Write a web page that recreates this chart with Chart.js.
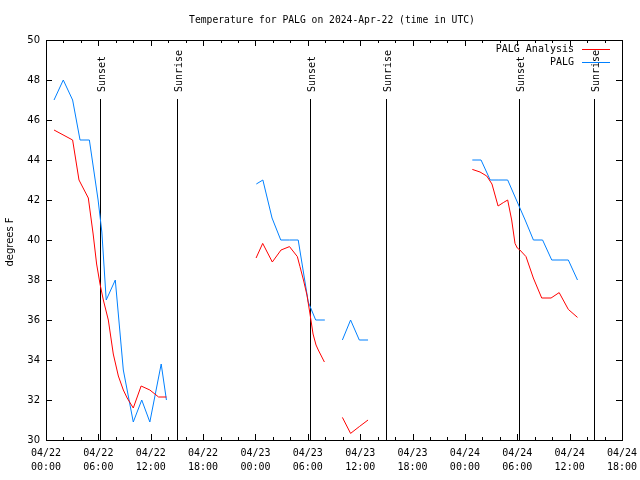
<!DOCTYPE html>
<html>
<head>
<meta charset="utf-8">
<title>PALG temperature</title>
<script src="https://cdn.jsdelivr.net/npm/chart.js@4.4.1/dist/chart.umd.min.js"></script>
<style>
  html, body { margin: 0; padding: 0; background: #fff; }
</style>
</head>
<body>
<canvas id="tempChart" width="640" height="480"></canvas>
<script>
// x values are hours since 04/22 00:00 UTC, null temp = gap in the record
const obsHours = [0.92, 1.98, 3.05, 3.9, 4.97, 5.97, 6.4, 6.9, 7.94, 8.86, 10.0, 10.97, 11.9, 13.2, 13.8,
  20,
  24.1, 24.85, 25.9, 26.9, 27.9, 28.9, 30.05, 30.9, 31.95,
  33,
  33.96, 34.9, 35.9, 36.9,
  45,
  48.85, 49.85, 50.9, 51.9, 52.9, 53.9, 54.9, 55.85, 56.9, 57.95, 58.9, 59.85, 60.9];
const obsTemps = [47, 48, 47, 45, 45, 42, 40.4, 37, 38, 33.5, 30.9, 32, 30.9, 33.8, 32,
  null,
  42.8, 43, 41.1, 40, 40, 40, 36.9, 36, 36,
  null,
  35, 36, 35, 35,
  null,
  44, 44, 43, 43, 43, 42, 41, 40, 40, 39, 39, 39, 38];

const anaHours = [0.92, 3.05, 3.78, 4.85, 5.4, 5.8, 6.19, 6.57, 7.14, 7.71, 8.29, 8.86, 9.3, 10.0, 10.9, 11.9, 12.9, 13.8,
  20,
  24.07, 24.83, 25.93, 26.93, 27.9, 28.8, 29.1, 29.5, 29.9, 30.25, 30.6, 30.94, 31.2, 31.9,
  33,
  33.96, 34.9, 35.9, 36.9,
  45,
  48.85, 49.73, 50.5, 51.1, 51.8, 52.4, 52.9, 53.36, 53.74, 54.0, 54.3, 55.0, 55.84, 56.8, 57.87, 58.8, 59.85, 60.9];
const anaTemps = [45.5, 45, 43, 42.1, 40.3, 38.8, 37.8, 37, 36, 34.3, 33.2, 32.5, 32.1, 31.6, 32.7, 32.5, 32.15, 32.15,
  null,
  39.1, 39.83, 38.9, 39.5, 39.67, 39.17, 38.67, 38, 37.25, 36.3, 35.3, 34.75, 34.5, 33.9,
  null,
  31.13, 30.33, 30.67, 31,
  null,
  43.53, 43.4, 43.2, 42.8, 41.7, 41.87, 42, 41, 39.83, 39.6, 39.5, 39.17, 38.1, 37.1, 37.1, 37.37, 36.53, 36.13];

const sunHours = [6.22, 15.05, 30.27, 39.0, 54.25, 62.83];
const sunLabels = ["Sunset", "Sunrise", "Sunset", "Sunrise", "Sunset", "Sunrise"];

const xTickLabels = [
  ["04/22", "00:00"], ["04/22", "06:00"], ["04/22", "12:00"], ["04/22", "18:00"],
  ["04/23", "00:00"], ["04/23", "06:00"], ["04/23", "12:00"], ["04/23", "18:00"],
  ["04/24", "00:00"], ["04/24", "06:00"], ["04/24", "12:00"], ["04/24", "18:00"]
];

const seriesNames = ["PALG Analysis", "PALG"];
const seriesColors = ["#ff0000", "#0080ff"];

const MONO = '"DejaVu Sans Mono", monospace';
const SANS = '"DejaVu Sans", sans-serif';

function toPoints(hours, temps) {
  return hours.map((h, i) => ({ x: h, y: temps[i] }));
}

// ticks, frame, sunrise/sunset markers, title, legend
const decorations = {
  id: "decorations",
  beforeDatasetsDraw(chart) {
    const { ctx, chartArea: a, scales: { x } } = chart;
    ctx.save();
    ctx.strokeStyle = "#000";
    ctx.fillStyle = "#000";
    ctx.lineWidth = 1;
    ctx.font = "10px " + MONO;
    sunHours.forEach((h, i) => {
      const px = Math.round(x.getPixelForValue(h)) + 0.5;
      ctx.beginPath();
      ctx.moveTo(px, a.top + 59);
      ctx.lineTo(px, a.bottom);
      ctx.stroke();
      ctx.save();
      ctx.translate(px + 1.5, a.top + 52);
      ctx.rotate(-Math.PI / 2);
      ctx.textAlign = "left";
      ctx.textBaseline = "middle";
      ctx.fillText(sunLabels[i], 0, 0);
      ctx.restore();
    });
    ctx.restore();
  },
  afterDraw(chart) {
    const { ctx, chartArea: a, scales: { x, y } } = chart;
    ctx.save();
    ctx.strokeStyle = "#000";
    ctx.lineWidth = 1;

    ctx.beginPath();
    for (let h = x.min; h <= x.max; h += 2) {
      const px = Math.round(x.getPixelForValue(h)) + 0.5;
      const len = h % 6 === 0 ? 6 : 3;
      ctx.moveTo(px, a.bottom); ctx.lineTo(px, a.bottom - len);
      ctx.moveTo(px, a.top); ctx.lineTo(px, a.top + len);
    }
    for (let v = y.min; v <= y.max; v += 2) {
      const py = Math.round(y.getPixelForValue(v)) + 0.5;
      ctx.moveTo(a.left, py); ctx.lineTo(a.left + 6, py);
      ctx.moveTo(a.right, py); ctx.lineTo(a.right - 6, py);
    }
    ctx.stroke();
    ctx.strokeRect(a.left + 0.5, a.top + 0.5, a.right - a.left, a.bottom - a.top);

    ctx.fillStyle = "#000";
    ctx.font = "9.7px " + MONO;
    ctx.textAlign = "center";
    ctx.textBaseline = "middle";
    ctx.fillText("Temperature for PALG on 2024-Apr-22 (time in UTC)", 332, 20);

    ctx.save();
    ctx.translate(10, 242);
    ctx.rotate(-Math.PI / 2);
    ctx.font = "10px " + SANS;
    ctx.fillText("degrees F", 0, 0);
    ctx.restore();

    ctx.font = "10px " + MONO;
    ctx.textAlign = "right";
    seriesNames.forEach((name, i) => {
      const ly = a.top + 9 + i * 13;
      ctx.fillText(name, a.right - 48, ly);
      ctx.strokeStyle = seriesColors[i];
      ctx.beginPath();
      ctx.moveTo(a.right - 40, ly + 0.5);
      ctx.lineTo(a.right - 12, ly + 0.5);
      ctx.stroke();
    });
    ctx.restore();
  }
};

new Chart(document.getElementById("tempChart"), {
  type: "line",
  data: {
    datasets: [
      {
        label: seriesNames[0],
        data: toPoints(anaHours, anaTemps),
        borderColor: seriesColors[0],
        borderWidth: 1,
        pointRadius: 0,
        tension: 0,
        spanGaps: false
      },
      {
        label: seriesNames[1],
        data: toPoints(obsHours, obsTemps),
        borderColor: seriesColors[1],
        borderWidth: 1,
        pointRadius: 0,
        tension: 0,
        spanGaps: false
      }
    ]
  },
  options: {
    responsive: false,
    animation: false,
    devicePixelRatio: 1,
    layout: { padding: { top: 40, right: 18, bottom: 0, left: 0 } },
    plugins: {
      legend: { display: false },
      title: { display: false },
      tooltip: { enabled: false }
    },
    scales: {
      x: {
        type: "linear",
        min: 0,
        max: 66,
        grid: { display: false, drawTicks: false },
        border: { display: false },
        ticks: {
          stepSize: 6,
          autoSkip: false,
          maxRotation: 0,
          padding: 6,
          color: "#000",
          font: { family: MONO, size: 10, lineHeight: 1.4 },
          callback: v => xTickLabels[Math.round(v / 6)] || ""
        },
        afterFit(scale) {
          scale.height = 40;
          scale.paddingLeft = 0;
          scale.paddingRight = 0;
        }
      },
      y: {
        min: 30,
        max: 50,
        grid: { display: false, drawTicks: false },
        border: { display: false },
        ticks: {
          stepSize: 2,
          padding: 6,
          color: "#000",
          font: { family: SANS, size: 10 }
        },
        afterFit(scale) {
          scale.width = 46;
          scale.paddingTop = 0;
          scale.paddingBottom = 0;
        }
      }
    }
  },
  plugins: [decorations]
});
</script>
</body>
</html>
